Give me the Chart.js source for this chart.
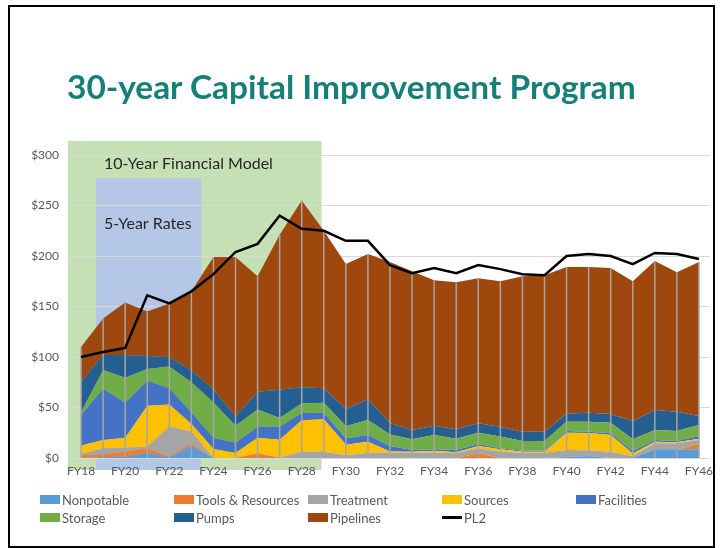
<!DOCTYPE html>
<html>
<head>
<meta charset="utf-8">
<script src="https://cdn.jsdelivr.net/npm/chart.js@4.4.0/dist/chart.umd.min.js"></script>
<style>
    body { margin: 0; background: #fff; font-family: Lato, sans-serif; }
    #cornice { position: absolute; left: 8px; top: 5px; width: 703px; height: 539px; border: 2px solid #000; }
    #titolo { position: absolute; left: 67px; top: 70px; font-weight: bold; font-size: 33px; line-height: 33px; color: #157f78; white-space: nowrap; transform-origin: left top; }
    #grafico { position: absolute; left: 0; top: 0; }
    #legenda { position: absolute; left: 40px; top: 492px; display: grid; grid-template-columns: repeat(5, 134px); row-gap: 3px; font-size: 13px; color: #595959; }
    .voce { display: flex; align-items: center; height: 15px; white-space: nowrap; }
    .box { width: 20px; height: 9px; margin-right: 2px; }
    .linea { width: 20px; height: 3px; background: #000; margin-right: 2px; }
</style>
</head>
<body>
<div id="cornice"></div>
<canvas id="grafico" width="721" height="548"></canvas>
<div id="titolo">30-year Capital Improvement Program</div>
<div id="legenda"></div>
<script>
const anni = ['FY18','FY19','FY20','FY21','FY22','FY23','FY24','FY25','FY26','FY27','FY28','FY29','FY30','FY31','FY32',
    'FY33','FY34','FY35','FY36','FY37','FY38','FY39','FY40','FY41','FY42','FY43','FY44','FY45','FY46']

// valori in milioni di $
const nonpotable = [0,1,1.3,5.3,0.5,12,0,0,0,0,0,0,0,0,0,0,0,0,0,0,0,0,1,2,0,0,8.6,8.6,8.6]
const tools = [2.6,3,5,4.3,1,2,0,0,4.6,0,0,0,0,0,0,0,0,0,4.6,0,0,0,0,0,0,0,0,0,5.3]
const treatment = [1.7,5.6,3.9,1.6,29.5,12,0,0,0,0.5,6.3,6.3,2.6,5.3,5.3,5.3,5.3,4.6,5,6.3,5.3,5.3,6.9,5.6,6.3,2,5.9,5.9,3.9]
const sources = [8.2,8.2,9.8,40.6,22,8,9,5,15.4,17.5,31,32,10.4,10.9,1.2,1,2,1,2.3,2.3,1,1,17.1,17.1,16.5,2.5,1.7,1,1.2]
const facilities = [30.1,50.5,34.8,24.6,16,11,11,10,11,13,7.2,6.6,6.5,6.6,5.5,1.6,1.3,2.3,2,1,1,1,1.7,1.3,1.6,2.4,1.6,1.3,2.8]
const storage = [2.4,18.8,24.7,11.6,21.5,30,35,17,17,8.5,9.5,9.9,12,14.8,11.3,10.6,14.2,11.2,11.1,11.6,9.5,9.5,9.3,10,10.6,11.6,9.9,9.9,10.9]
const pumps = [30.6,14.9,22.5,13,9.2,12,13,9,17.5,28,16,14.2,17,20.6,11.4,9.2,9.2,9.3,9.3,9.8,9.2,9.2,8,8.9,8.6,18.1,19.8,19.2,8.9]
const pipelines = [34.4,36,52,44,53.3,78,131,158,114.5,153.5,185,156,143.5,143.8,159.3,157.3,144,145.6,143.7,144,154,155,145,144.1,144.4,138.4,147.5,138.1,152.4]
const pl2 = [100,105,109,161,153,165,182,204,212,240,227,225,215,215,191,183,188,183,191,187,182,181,200,202,200,192,203,202,197]

const tickY = [0,50,100,150,200,250,300]

const serie = [
    { nome: 'Nonpotable', dati: nonpotable, colore: '#5b9bd5' },
    { nome: 'Tools & Resources', dati: tools, colore: '#ed7d31' },
    { nome: 'Treatment', dati: treatment, colore: '#a5a5a5' },
    { nome: 'Sources', dati: sources, colore: '#ffc000' },
    { nome: 'Facilities', dati: facilities, colore: '#4472c4' },
    { nome: 'Storage', dati: storage, colore: '#70ad47' },
    { nome: 'Pumps', dati: pumps, colore: '#255e91' },
    { nome: 'Pipelines', dati: pipelines, colore: '#9e480e' }
]

// PL2 per primo: viene disegnato sopra a tutto
let datasets = [{
    label: 'PL2',
    data: pl2,
    yAxisID: 'y2',
    borderColor: '#000',
    borderWidth: 2.5,
    pointRadius: 0,
    fill: false
}]

serie.forEach((s, i) => {
    datasets.push({
        label: s.nome,
        data: s.dati,
        yAxisID: 'y',
        backgroundColor: s.colore,
        borderWidth: 0,
        pointRadius: 0,
        fill: i == 0 ? 'origin' : '-1'
    })
})

const sfondi = {
    id: 'sfondi',
    beforeDraw: (chart) => {
        let ctx = chart.ctx
        let x = chart.scales.x
        let y = chart.scales.y
        ctx.save()
        // 10-Year Financial Model
        let gx1 = x.getPixelForValue(-0.6), gx2 = x.getPixelForValue(10.9)
        let gy1 = y.getPixelForValue(314), gy2 = y.bottom + 12
        ctx.fillStyle = '#c5e0b4'
        ctx.fillRect(gx1, gy1, gx2 - gx1, gy2 - gy1)
        // 5-Year Rates
        let bx1 = x.getPixelForValue(0.68), bx2 = x.getPixelForValue(5.44)
        let by1 = y.getPixelForValue(277)
        ctx.fillStyle = '#b4c7e7'
        ctx.fillRect(bx1, by1, bx2 - bx1, gy2 - by1)

        ctx.fillStyle = '#262626'
        ctx.font = '16px Lato'
        ctx.textBaseline = 'alphabetic'
        ctx.fillText('10-Year Financial Model', bx1 + 8, gy1 + 28)
        ctx.fillText('5-Year Rates', bx1 + 8, by1 + 51)
        ctx.restore()
    }
}

const dropLines = {
    id: 'dropLines',
    beforeDatasetDraw: (chart, args) => {
        if(args.index != 0)
            return
        let ctx = chart.ctx
        let zero = chart.scales.y.getPixelForValue(0)
        let punti = chart.getDatasetMeta(serie.length).data
        ctx.save()
        ctx.strokeStyle = '#a6a6a6'
        ctx.lineWidth = 1.5
        punti.forEach((p) => {
            ctx.beginPath()
            ctx.moveTo(p.x, p.y)
            ctx.lineTo(p.x, zero)
            ctx.stroke()
        })
        ctx.restore()
    }
}

new Chart(document.getElementById('grafico'), {
    type: 'line',
    data: {
        labels: anni,
        datasets: datasets
    },
    plugins: [sfondi, dropLines],
    options: {
        responsive: false,
        animation: false,
        layout: {
            padding: { left: 20, top: 155, right: 11, bottom: 64 }
        },
        elements: { line: { tension: 0 } },
        plugins: {
            legend: { display: false },
            tooltip: { enabled: false }
        },
        scales: {
            x: {
                offset: true,
                grid: { display: false, drawTicks: false },
                border: { display: false },
                ticks: {
                    autoSkip: false,
                    maxRotation: 0,
                    padding: 6,
                    color: '#595959',
                    font: { family: 'Lato', size: 12 },
                    callback: (val, i) => i % 2 == 0 ? anni[i] : ''
                },
                afterFit: (scale) => { scale.height = 26 }
            },
            y: {
                stacked: true,
                min: 0,
                max: 300,
                afterBuildTicks: (scale) => { scale.ticks = tickY.map((v) => ({ value: v })) },
                grid: { color: '#d9d9d9', lineWidth: 1, drawTicks: false },
                border: { display: false },
                ticks: {
                    padding: 11,
                    color: '#595959',
                    font: { family: 'Lato', size: 12 },
                    callback: (v) => '$' + v
                },
                afterFit: (scale) => { scale.width = 50 }
            },
            y2: {
                display: false,
                min: 0,
                max: 300
            }
        }
    }
})

// legenda html a colonne fisse come nell'originale
let legenda = document.getElementById('legenda')
serie.forEach((s) => {
    legenda.innerHTML += '<div class="voce"><span class="box" style="background:' + s.colore + '"></span>' + s.nome + '</div>'
})
legenda.innerHTML += '<div class="voce"><span class="linea"></span>PL2</div>'

let titolo = document.getElementById('titolo')
titolo.style.transform = 'scaleX(' + (569 / titolo.offsetWidth) + ')'
</script>
</body>
</html>
